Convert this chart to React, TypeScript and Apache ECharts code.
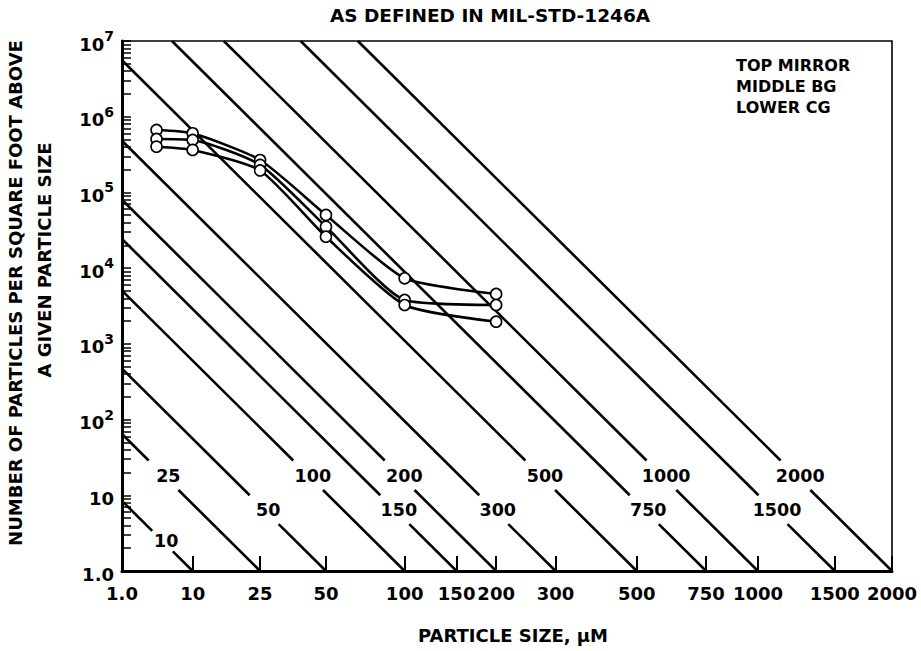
import React, { useEffect, useRef } from "react";
import * as echarts from "echarts";

// ---------- data ----------
const xTickValues = [1, 10, 25, 50, 100, 150, 200, 300, 500, 750, 1000, 1500, 2000];
const xTickLabels = ["1.0", "10", "25", "50", "100", "150", "200", "300", "500", "750", "1000", "1500", "2000"];
const yTickValues = [1, 10, 1e2, 1e3, 1e4, 1e5, 1e6, 1e7];
const cleanlinessLevels = [10, 25, 50, 100, 150, 200, 300, 500, 750, 1000, 1500, 2000];
const particleSizes = [5, 10, 25, 50, 100, 200];
const topMirror = [668000, 604000, 268000, 50400, 7350, 4560];
const middleBG = [508000, 493000, 231000, 35300, 3800, 3260];
const lowerCG = [402000, 364000, 195000, 26000, 3260, 1960];
const seriesNames = ["TOP MIRROR", "MIDDLE BG", "LOWER CG"];
const title = "AS DEFINED IN MIL-STD-1246A";
const yNameLine1 = "NUMBER OF PARTICLES PER SQUARE FOOT ABOVE";
const yNameLine2 = "A GIVEN PARTICLE SIZE";
const xName = "PARTICLE SIZE, \u03bcM";

// MIL-STD-1246A: log N = 0.926 (log^2 L - log^2 x)
const SLOPE = 0.926;

// ---------- layout / style ----------
const FONT = "'DejaVu Sans', 'Liberation Sans', Arial, sans-serif";
// label row for each cleanliness level: [gapLow, gapHigh, labelPos] in log10(N)
const ROWS = [
  [1.07, 1.46, 1.255],
  [0.62, 1.0, 0.81],
  [0.26, 0.53, 0.4],
];
const levelRow: Record<number, number> = {
  10: 2, 25: 0, 50: 1, 100: 0, 150: 1, 200: 0, 300: 1, 500: 0, 750: 1, 1000: 0, 1500: 1, 2000: 0,
};

const sq = (x: number) => Math.pow(Math.log10(x), 2);
const tAt = (L: number, logN: number) => sq(L) - logN / SLOPE;
const logNAt = (L: number, t: number) => SLOPE * (sq(L) - t);

export default function App() {
  const ref = useRef<HTMLDivElement>(null);

  useEffect(() => {
    document.body.style.margin = "0";
    if (!ref.current) return;
    const chart = echarts.init(ref.current, null, { renderer: "svg" });

    const xTickT = xTickValues.map(sq);
    const yMinor: number[] = [];
    for (let d = 0; d < 7; d++) for (let m = 1; m <= 9; m++) yMinor.push(m * Math.pow(10, d));
    yMinor.push(1e7);

    const levelSeries: any[] = [];
    cleanlinessLevels.forEach((L) => {
      const [g0, g1] = ROWS[levelRow[L]];
      const tStart = Math.max(0, tAt(L, 7));
      const nStart = logNAt(L, tStart);
      const lineCommon = {
        type: "line",
        symbol: "none",
        silent: true,
        z: 2,
        lineStyle: { color: "#000", width: 2.6 },
      };
      levelSeries.push({
        ...lineCommon,
        data: [
          [tStart, Math.pow(10, nStart)],
          [tAt(L, g1), Math.pow(10, g1)],
        ],
      });
      levelSeries.push({
        ...lineCommon,
        data: [
          [tAt(L, g0), Math.pow(10, g0)],
          [sq(L), 1],
        ],
      });
    });

    const labelData = cleanlinessLevels.map((L) => {
      const mid = ROWS[levelRow[L]][2];
      return [tAt(L, mid), Math.pow(10, mid), String(L)];
    });

    const dataSets = [topMirror, middleBG, lowerCG];
    const dataSeries = dataSets.map((vals, i) => ({
      name: seriesNames[i],
      type: "line",
      smooth: 0.2,
      z: 5,
      symbol: "circle",
      symbolSize: 11,
      lineStyle: { color: "#000", width: 2.6 },
      itemStyle: { color: "#fff", borderColor: "#000", borderWidth: 1.6 },
      data: particleSizes.map((x, j) => [sq(x), vals[j]]),
    }));

    const textBase = { fontFamily: FONT, fontWeight: "bold", color: "#000" };

    chart.setOption({
      animation: false,
      backgroundColor: "#fff",
      grid: {
        left: 122,
        right: 29,
        top: 41,
        bottom: 80,
        show: true,
        borderColor: "#000",
        borderWidth: 1.6,
        outerBoundsMode: "none",
      },
      xAxis: {
        type: "value",
        min: 0,
        max: sq(2000),
        axisLine: { show: true, lineStyle: { color: "#000", width: 3 } },
        axisTick: {
          show: true,
          inside: true,
          length: 15,
          customValues: xTickT,
          lineStyle: { color: "#000", width: 2 },
        },
        axisLabel: {
          ...textBase,
          fontSize: 18,
          margin: 13,
          customValues: xTickT,
          formatter: (v: number) => {
            const i = xTickT.findIndex((t) => Math.abs(t - v) < 1e-6);
            return i >= 0 ? xTickLabels[i] : "";
          },
        },
        splitLine: { show: false },
        name: xName,
        nameLocation: "middle",
        nameGap: 55,
        nameTextStyle: { ...textBase, fontSize: 18, padding: [0, 0, 0, 12] },
      },
      yAxis: {
        type: "log",
        logBase: 10,
        min: 1,
        max: 1e7,
        axisLine: { show: true, lineStyle: { color: "#000", width: 3 } },
        axisTick: {
          show: true,
          inside: true,
          length: 9,
          customValues: yMinor,
          lineStyle: { color: "#000", width: 1.5 },
        },
        axisLabel: {
          ...textBase,
          fontSize: 18,
          margin: 8,
          customValues: yTickValues,
          formatter: (v: number) => {
            const e = Math.round(Math.log10(v));
            if (e === 0) return "{b|1.0}";
            if (e === 1) return "{b|10}";
            return "{b|10}{s|" + e + "}";
          },
          rich: {
            b: { ...textBase, fontSize: 18, lineHeight: 24, verticalAlign: "bottom" },
            s: { ...textBase, fontSize: 14, lineHeight: 14, verticalAlign: "top" },
          },
        },
        splitLine: { show: false },
        minorTick: { show: false },
      },
      graphic: [
        {
          type: "text",
          x: 490,
          y: 15,
          style: { text: title, font: `bold 18.5px ${FONT}`, fill: "#000", align: "center", verticalAlign: "middle" },
        },
        {
          type: "text",
          x: 15,
          y: 293,
          rotation: Math.PI / 2,
          style: { text: yNameLine1, font: `bold 18px ${FONT}`, fill: "#000", align: "center", verticalAlign: "middle" },
        },
        {
          type: "text",
          x: 44,
          y: 260,
          rotation: Math.PI / 2,
          style: { text: yNameLine2, font: `bold 18px ${FONT}`, fill: "#000", align: "center", verticalAlign: "middle" },
        },
        {
          type: "text",
          x: 736,
          y: 55,
          style: {
            text: seriesNames.join("\n"),
            font: `bold 16px ${FONT}`,
            lineHeight: 21,
            fill: "#000",
            align: "left",
            verticalAlign: "top",
          },
        },
      ],
      series: [
        ...levelSeries,
        {
          type: "scatter",
          silent: true,
          symbolSize: 0,
          z: 3,
          itemStyle: { opacity: 1, color: "#000" },
          data: labelData,
          label: {
            show: true,
            position: "inside",
            offset: [4, 0],
            ...textBase,
            opacity: 1,
            fontSize: 17.5,
            formatter: (p: any) => p.value[2],
          },
        },
        ...dataSeries,
      ],
    });

    return () => chart.dispose();
  }, []);

  return <div ref={ref} style={{ width: 921, height: 651, display: "block" }} />;
}
